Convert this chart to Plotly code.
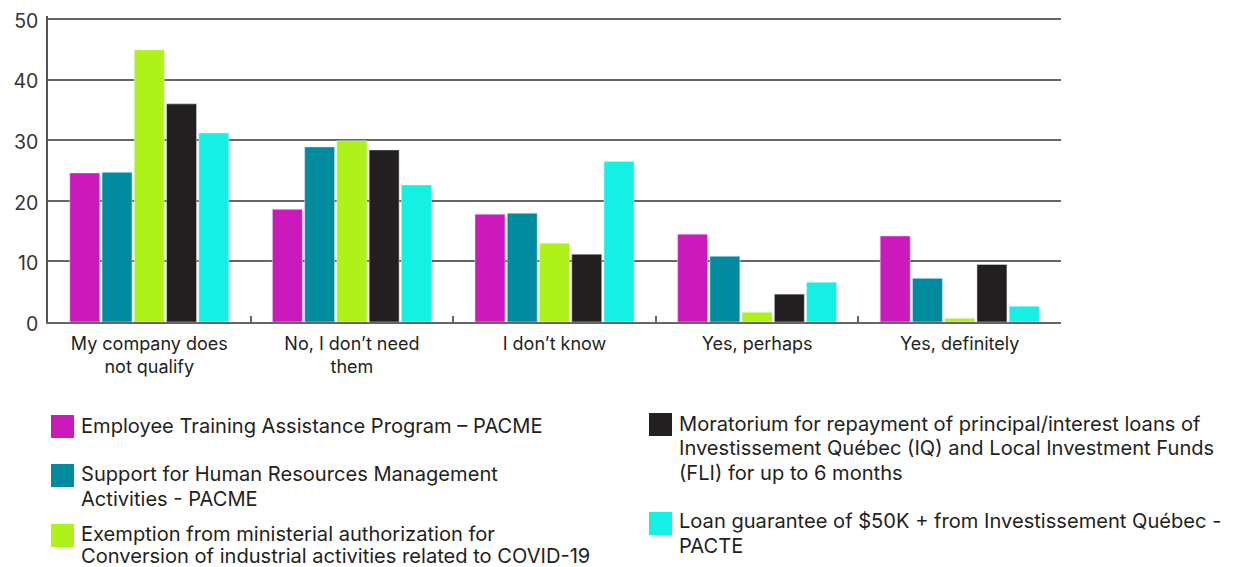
import plotly.graph_objects as go

categories = ["My company does<br>not qualify", "No, I don’t need<br>them", "I don’t know",
              "Yes, perhaps", "Yes, definitely"]

series_names = [
    "Employee Training Assistance Program – PACME",
    "Support for Human Resources Management<br>Activities - PACME",
    "Exemption from ministerial authorization for<br>Conversion of industrial activities related to COVID-19",
    "Moratorium for repayment of principal/interest loans of<br>Investissement Québec (IQ) and Local Investment Funds<br>(FLI) for up to 6 months",
    "Loan guarantee of $50K + from Investissement Québec -<br>PACTE",
]
pacme_training = [24.6, 18.6, 17.8, 14.5, 14.2]
pacme_hr = [24.7, 28.9, 17.95, 10.85, 7.2]
exemption = [44.9, 29.9, 13.0, 1.6, 0.6]
moratorium = [36.0, 28.4, 11.2, 4.6, 9.5]
loan_guarantee = [31.2, 22.6, 26.5, 6.55, 2.6]
series_values = [pacme_training, pacme_hr, exemption, moratorium, loan_guarantee]
colors = ["#CC19BB", "#008C9E", "#AEF21A", "#231F20", "#14F0E3"]
y_ticks = [0, 10, 20, 30, 40, 50]

FONT = "Inter"
OFF = 8                      # page body margin
W, H = 1233 - OFF, 567 - OFF
Y_TOP = 50.5                 # a little above 50 so the top gridline is drawn
PX_PER_UNIT = (322 - 19) / 50
L = 48 - OFF
T = 19 - OFF - (Y_TOP - 50) * PX_PER_UNIT
R = W - (1061 - OFF)
B = H - (322 - OFF)

fig = go.Figure()
for name, vals, col in zip(series_names, series_values, colors):
    fig.add_trace(go.Bar(x=categories, y=vals, name=name, marker_color=col,
                         showlegend=False))

# legend built from shapes + annotations (screen pixel layout -> paper coords)
def px_x(x):
    return (x - OFF - L) / (W - L - R)

def px_y(y):
    return (H - B - (y - OFF)) / (H - T - B)

legend_items = [
    # swatch left, swatch top, first-line center y, line step (screen px)
    (51, 415, 426, 24.5),
    (51, 464, 474.5, 24.5),
    (51, 524, 534.5, 21.5),
    (649, 413, 424, 24.5),
    (649, 512, 521, 25),
]
SW = 23
for (sx, sy, ty, step), name, col in zip(legend_items, series_names, colors):
    fig.add_shape(type="rect", xref="paper", yref="paper",
                  x0=px_x(sx), x1=px_x(sx + SW), y0=px_y(sy), y1=px_y(sy + SW),
                  fillcolor=col, line_width=0)
    for i, line in enumerate(name.split("<br>")):
        fig.add_annotation(xref="paper", yref="paper", x=px_x(sx + 28),
                           y=px_y(ty + i * step),
                           xanchor="left", yanchor="middle", align="left",
                           text=line, showarrow=False,
                           font=dict(family=FONT, size=20.1, color="#231F20"))

fig.update_layout(
    width=W, height=H,
    margin=dict(l=L, r=R, t=T, b=B, autoexpand=False),
    barmode="group", bargap=0.204, bargroupgap=0.07,
    plot_bgcolor="white", paper_bgcolor="white",
    font=dict(family=FONT, size=18, color="#231F20"),
)
fig.update_xaxes(showline=True, linecolor="#666", linewidth=2, automargin=False,
                 ticks="inside", tickson="boundaries", ticklen=6, tickcolor="#666",
                 tickwidth=1.5, ticklabelstandoff=4,
                 tickfont=dict(size=18, color="#231F20"))
fig.update_yaxes(range=[0, Y_TOP], tickvals=y_ticks, showline=True, linecolor="#555",
                 linewidth=1.5, gridcolor="#666", gridwidth=2, zeroline=False,
                 automargin=False, ticks="", ticklabelstandoff=4, ticklabelshift=2,
                 ticklabeloverflow="allow",
                 tickfont=dict(size=19.5, color="#333"))

fig.write_html("out.html")
